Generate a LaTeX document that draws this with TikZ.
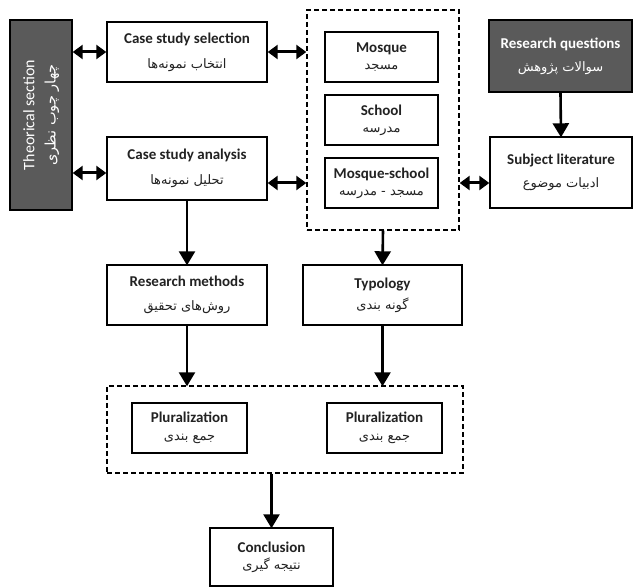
\documentclass[tikz,border=0pt]{standalone}
\usepackage{fontspec}
\setmainfont{Carlito}
\newfontfamily\arabicfont[Script=Arabic]{DejaVu Sans}
\TeXXeTstate=1
\usetikzlibrary{arrows.meta,positioning}
\definecolor{darkfill}{HTML}{5A5A5A}
\definecolor{ink}{HTML}{222222}
\newcommand{\fa}[1]{{\arabicfont\fontsize{13}{15}\selectfont\beginR #1\endR}}
\newcommand{\en}[1]{{\bfseries\fontsize{15}{17}\selectfont #1}}
\tikzset{
  box/.style={draw=black, line width=1.4pt, fill=white, rectangle, inner sep=0pt,
              align=center, text=ink},
  darkbox/.style={box, fill=darkfill, text=white},
  group/.style={draw=black, line width=1.4pt, dash pattern=on 5pt off 3pt, rectangle, inner sep=0pt},
  arr/.style={line width=2.6pt, -{Triangle[length=14pt,width=16pt]}, shorten >=-1pt},
  darr/.style={line width=3pt, {Triangle[length=10pt,width=14pt]}-{Triangle[length=10pt,width=14pt]}},
}
\begin{document}
\begin{tikzpicture}[x=1pt,y=-1pt]
\useasboundingbox (0,0) rectangle (633,588);

% left column: dark panel with two rotated lines
\node[darkbox, minimum width=62pt, minimum height=190pt] (theory) at (41,115) {};
\node[rotate=90, text=white, font=\fontsize{16}{18}\selectfont] (thEn) at ([xshift=-12pt]theory.center)
  {Theorical section};
\node[rotate=90, text=white, font=\arabicfont\fontsize{14.5}{16}\selectfont] (thFa) at ([xshift=11pt]theory.center)
  {\beginR چهار چوب نظری\endR};

\node[box, minimum width=160pt, minimum height=60pt] (sel) at (187,52)
  {\en{Case study selection}\\[12pt]\fa{انتخاب نمونه‌ها}};
\node[box, minimum width=160pt, minimum height=63pt] (ana) at (187,168.5)
  {\en{Case study analysis}\\[12pt]\fa{تحلیل نمونه‌ها}};

% building types group
\node[group, minimum width=152pt, minimum height=220pt] (grp) at (383,120) {};
\node[box, minimum width=113pt, minimum height=50pt] (mosque) at (381.5,57)
  {\en{Mosque}\\[5pt]\fa{مسجد}};
\node[box, minimum width=113pt, minimum height=50pt] (school) at (381.5,120)
  {\en{School}\\[5pt]\fa{مدرسه}};
\node[box, minimum width=113pt, minimum height=50pt] (ms) at (381.5,183)
  {\en{Mosque-school}\\[5pt]\fa{مسجد - مدرسه}};

% right column
\node[darkbox, minimum width=143pt, minimum height=72pt] (rq) at (560.5,56)
  {\en{Research questions}\\[10pt]\fa{سوالات پژوهش}};
\node[box, minimum width=142pt, minimum height=71pt] (lit) at (561,172.5)
  {\en{Subject literature}\\[10pt]\fa{ادبیات موضوع}};

% second row
\node[box, minimum width=160pt, minimum height=60pt] (meth) at (187,295)
  {\en{Research methods}\\[12pt]\fa{روش‌های تحقیق}};
\node[box, minimum width=159pt, minimum height=60pt] (typ) at (382.5,295)
  {\en{Typology}\\[6pt]\fa{گونه بندی}};

% pluralization group
\node[group, minimum width=356pt, minimum height=87pt] (bgrp) at (285,429.5) {};
\node[box, minimum width=115pt, minimum height=50pt] (plu1) at (189.5,428)
  {\en{Pluralization}\\[6pt]\fa{جمع بندی}};
\node[box, minimum width=115pt, minimum height=50pt] (plu2) at (384.5,428)
  {\en{Pluralization}\\[6pt]\fa{جمع بندی}};

\node[box, minimum width=123pt, minimum height=58pt] (concl) at (271.5,557)
  {\en{Conclusion}\\[5pt]\fa{نتیجه گیری}};

% connectors
\draw[darr] (theory.east |- sel) -- (sel.west);
\draw[darr] (theory.east |- 0,173) -- (ana.west |- 0,173);
\draw[darr] (sel.east) -- (grp.west |- sel);
\draw[darr] (ana.east |- ms) -- (grp.west |- ms);
\draw[darr] (grp.east |- ms) -- (lit.west |- ms);
\draw[arr] (rq.south) -- (lit.north);
\draw[arr] (ana.south) -- (meth.north);
\draw[arr] (grp.south) -- (typ.north);
\draw[arr] (meth.south) -- (bgrp.north -| meth);
\draw[arr] (typ.south) -- (bgrp.north -| typ);
\draw[arr] (concl.north |- bgrp.south) -- (concl.north);
\end{tikzpicture}
\end{document}
